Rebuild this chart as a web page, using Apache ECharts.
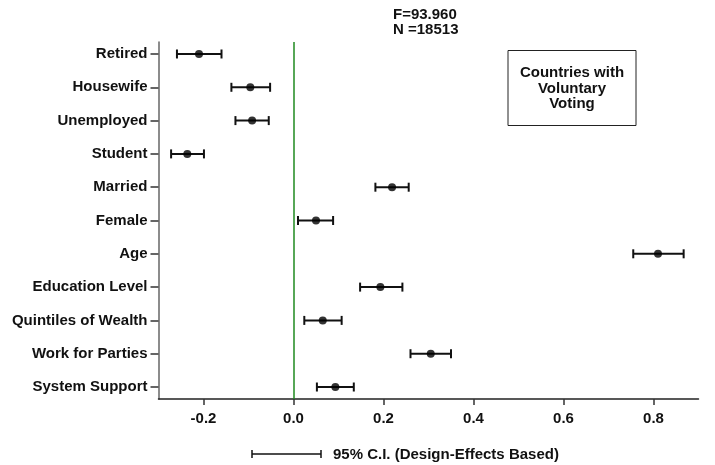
<!DOCTYPE html>
<html>
<head>
<meta charset="utf-8">
<script src="https://cdn.jsdelivr.net/npm/echarts@6/dist/echarts.min.js"></script>
<style>
html,body{margin:0;padding:0;background:#fff;}
#chart{width:715px;height:465px;}
</style>
</head>
<body>
<div id="chart"></div>
<script>
const categories = ['Retired','Housewife','Unemployed','Student','Married','Female','Age','Education Level','Quintiles of Wealth','Work for Parties','System Support'];
const estimates = [-0.210,-0.096,-0.092,-0.236,0.219,0.050,0.810,0.193,0.065,0.305,0.093];
const lower = [-0.259,-0.138,-0.129,-0.272,0.182,0.010,0.755,0.148,0.024,0.260,0.052];
const upper = [-0.160,-0.052,-0.055,-0.199,0.256,0.088,0.867,0.242,0.107,0.350,0.134];
const xTicks = [-0.2,0,0.2,0.4,0.6,0.8];
const statLines = ['F=93.960','N =18513'];
const boxLines = ['Countries with','Voluntary','Voting'];
const legendText = '95% C.I. (Design-Effects Based)';

const FONT = '"Liberation Sans", Arial, Helvetica, sans-serif';
const yIdx = categories.map((c,i)=>i);

const chart = echarts.init(document.getElementById('chart'), null, {renderer:'canvas'});

const option = {
  animation:false,
  backgroundColor:'#fff',
  textStyle:{fontFamily:FONT},
  grid:{left:158.5, right:16.5, top:42, bottom:66},
  xAxis:{
    type:'value', min:-0.3, max:0.9,
    splitLine:{show:false},
    axisLine:{show:true, onZero:false, lineStyle:{color:'#222', width:1.5}},
    axisTick:{show:true, length:6, customValues:xTicks, lineStyle:{color:'#333', width:1.5}},
    axisLabel:{customValues:xTicks, margin:12, fontSize:15, fontWeight:'bold', color:'#111', fontFamily:FONT,
      formatter:(v)=>v.toFixed(1)}
  },
  yAxis:{
    type:'value', min:-0.36, max:10.36, inverse:true,
    splitLine:{show:false},
    axisLine:{show:true, onZero:false, lineStyle:{color:'#666', width:1.5}},
    axisTick:{show:true, length:8, customValues:yIdx, lineStyle:{color:'#333', width:1.5}},
    axisLabel:{customValues:yIdx, margin:11, fontSize:15, fontWeight:'bold', color:'#111', fontFamily:FONT,
      formatter:(v)=>categories[Math.round(v)]}
  },
  series:[
    {
      type:'custom',
      data: categories.map((c,i)=>[lower[i], upper[i], i]),
      renderItem:function(params, api){
        const lo = api.coord([api.value(0), api.value(2)]);
        const hi = api.coord([api.value(1), api.value(2)]);
        const h = 4.5;
        const st = {stroke:'#111', lineWidth:2};
        return {type:'group', children:[
          {type:'line', shape:{x1:lo[0], y1:lo[1], x2:hi[0], y2:hi[1]}, style:st},
          {type:'line', shape:{x1:lo[0], y1:lo[1]-h, x2:lo[0], y2:lo[1]+h}, style:st},
          {type:'line', shape:{x1:hi[0], y1:hi[1]-h, x2:hi[0], y2:hi[1]+h}, style:st}
        ]};
      },
      z:3,
      markLine:{
        silent:true, symbol:'none',
        label:{show:false},
        lineStyle:{color:'#1f8a1f', width:1.5, type:'solid'},
        data:[{xAxis:0}]
      }
    },
    {
      type:'scatter',
      data: categories.map((c,i)=>[estimates[i], i]),
      symbol:'circle', symbolSize:8,
      itemStyle:{color:'#000'},
      z:4
    }
  ],
  graphic:[
    {type:'text', left:393, top:7, style:{text:statLines.join('\n'), font:'bold 15px '+FONT, fill:'#111', lineHeight:15}},
    {type:'rect', shape:{x:508, y:50.5, width:128, height:75}, style:{fill:'none', stroke:'#222', lineWidth:1}},
    {type:'text', x:572, y:88.5, style:{text:boxLines.join('\n'), font:'bold 15px '+FONT, fill:'#111', align:'center', verticalAlign:'middle', lineHeight:15.5}},
    {type:'line', shape:{x1:252, y1:454, x2:321, y2:454}, style:{stroke:'#111', lineWidth:1.5}},
    {type:'line', shape:{x1:252, y1:450, x2:252, y2:458}, style:{stroke:'#111', lineWidth:1.5}},
    {type:'line', shape:{x1:321, y1:450, x2:321, y2:458}, style:{stroke:'#111', lineWidth:1.5}},
    {type:'text', x:333, y:455, style:{text:legendText, font:'bold 15px '+FONT, fill:'#111', verticalAlign:'middle'}}
  ]
};
chart.setOption(option);
</script>
</body>
</html>
